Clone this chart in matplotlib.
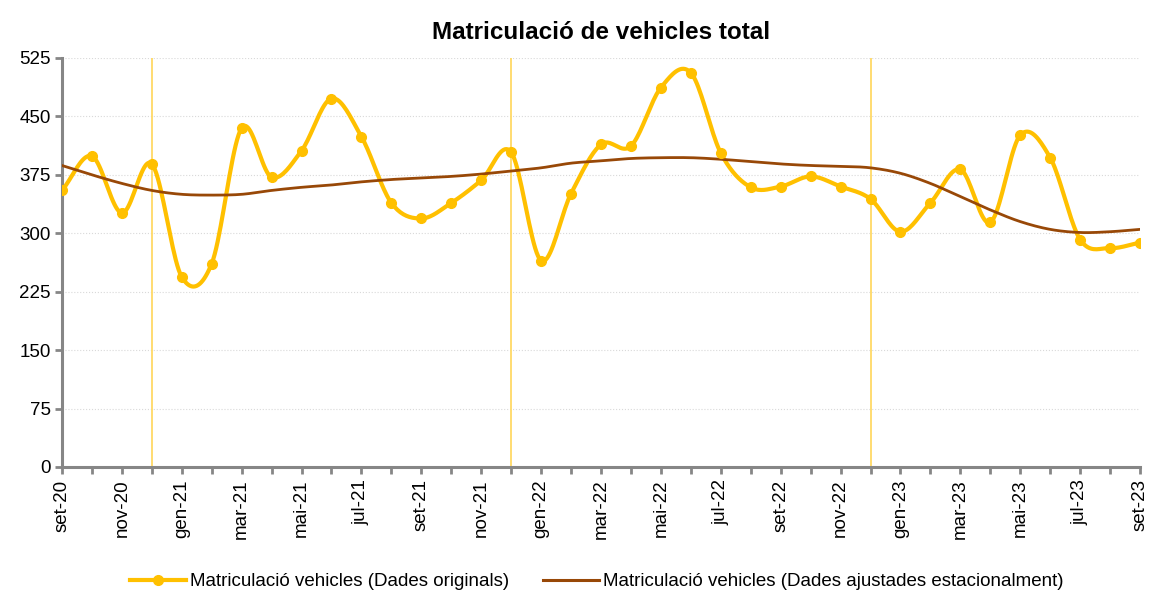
import matplotlib.pyplot as plt
import numpy as np

plt.rcParams['font.family'] = ['Liberation Sans', 'DejaVu Sans']

months = ['set-20', 'oct-20', 'nov-20', 'des-20', 'gen-21', 'feb-21', 'mar-21', 'abr-21',
          'mai-21', 'jun-21', 'jul-21', 'ago-21', 'set-21', 'oct-21', 'nov-21', 'des-21',
          'gen-22', 'feb-22', 'mar-22', 'abr-22', 'mai-22', 'jun-22', 'jul-22', 'ago-22',
          'set-22', 'oct-22', 'nov-22', 'des-22', 'gen-23', 'feb-23', 'mar-23', 'abr-23',
          'mai-23', 'jun-23', 'jul-23', 'ago-23', 'set-23']
originals = [355, 399, 326, 389, 244, 261, 435, 372, 406, 473, 424, 339, 319, 339, 368, 404,
             265, 351, 414, 412, 487, 506, 403, 359, 360, 373, 360, 344, 302, 339, 382, 314,
             426, 397, 292, 281, 288]
ajustades = [387, 375, 364, 355, 350, 349, 350, 355, 359, 362, 366, 369, 371, 373, 376, 380,
             384, 390, 393, 396, 397, 397, 395, 392, 389, 387, 386, 384, 377, 364, 347, 330,
             315, 305, 301, 302, 305]
december = ['des-20', 'des-21', 'des-22']


def smooth(y, n=20):
    # Catmull-Rom curve through the points, like Excel's smoothed line
    y = np.asarray(y, dtype=float)
    p = np.concatenate([[2 * y[0] - y[1]], y, [2 * y[-1] - y[-2]]])
    xs, ys = [], []
    t = np.linspace(0, 1, n, endpoint=False)
    for i in range(len(y) - 1):
        p0, p1, p2, p3 = p[i], p[i + 1], p[i + 2], p[i + 3]
        seg = 0.5 * (2 * p1 + (-p0 + p2) * t + (2 * p0 - 5 * p1 + 4 * p2 - p3) * t ** 2
                     + (-p0 + 3 * p1 - 3 * p2 + p3) * t ** 3)
        xs.extend(i + t)
        ys.extend(seg)
    xs.append(len(y) - 1)
    ys.append(y[-1])
    return np.array(xs), np.array(ys)


x = np.arange(len(months))
yellow = '#FFC000'
brown = '#984807'

fig = plt.figure(figsize=(11.58, 6.06), dpi=100)
ax = fig.add_axes([0.0535, 0.2294, 0.931, 0.6749])

for m in december:
    ax.axvline(months.index(m), color='#FFD966', lw=1.3, zorder=1)

sx, sy = smooth(originals)
ax.plot(sx, sy, color=yellow, lw=3, zorder=3, solid_capstyle='round')
ax.plot(x, originals, 'o', color=yellow, ms=7, zorder=4)
tx, ty = smooth(ajustades)
ax.plot(tx, ty, color=brown, lw=2, zorder=3)

# legend handles
ax.plot([], [], '-o', color=yellow, lw=3, ms=7, label='Matriculació vehicles (Dades originals)')
ax.plot([], [], '-', color=brown, lw=2.2, label='Matriculació vehicles (Dades ajustades estacionalment)')

ax.set_xlim(0, len(months) - 1)
ax.set_ylim(0, 525)
ax.set_yticks(np.arange(0, 526, 75))
ax.set_xticks(x, minor=True)
ax.set_xticks(x[::2])
ax.set_xticklabels(months[::2], rotation=90)
ax.tick_params(axis='both', labelsize=13.5, color='#868686', width=2, length=5)
ax.tick_params(axis='x', which='minor', color='#868686', width=2, length=5)
ax.tick_params(axis='x', pad=4)
ax.tick_params(axis='y', pad=3)
ax.grid(axis='y', color='#D9D9D9', ls=':', lw=0.8)
ax.set_axisbelow(True)
for s in ['top', 'right']:
    ax.spines[s].set_visible(False)
for s in ['left', 'bottom']:
    ax.spines[s].set_color('#868686')
    ax.spines[s].set_linewidth(2.2)

ax.set_title('Matriculació de vehicles total', fontsize=17.5, fontweight='bold', pad=14)
fig.legend(loc='center', bbox_to_anchor=(0.515, 0.04), ncol=2, frameon=False,
           fontsize=13.5, handlelength=3, columnspacing=1.8, handletextpad=0.2)

plt.savefig('out.png', dpi=100)
